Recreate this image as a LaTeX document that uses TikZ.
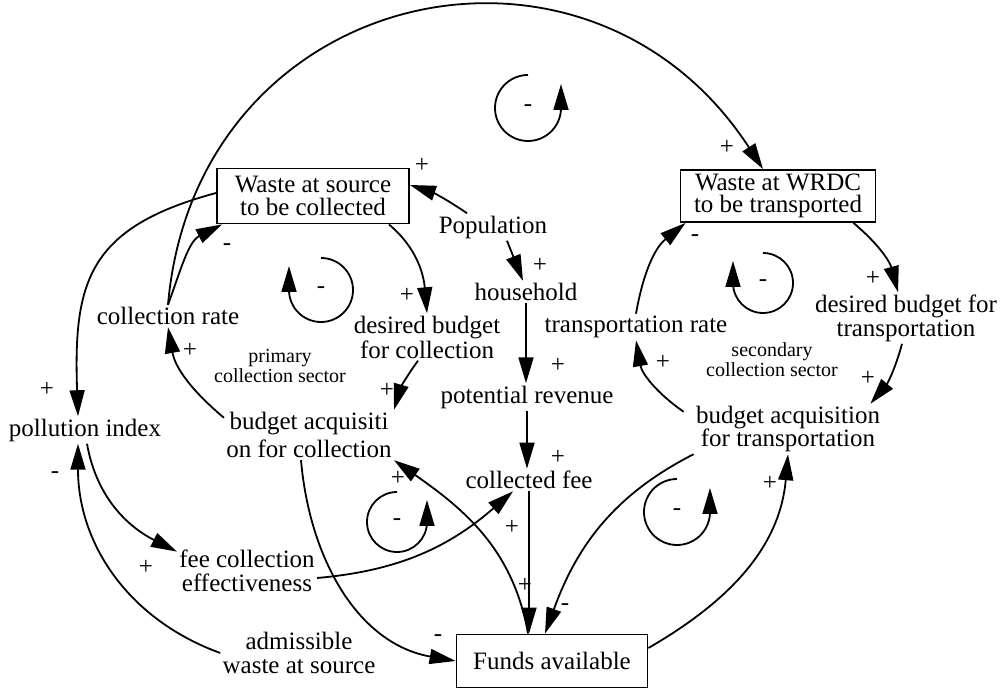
\documentclass[tikz,border=0pt]{standalone}
\usepackage{fontspec}
\setmainfont{Liberation Serif}
\usetikzlibrary{arrows.meta}

\begin{document}
\begin{tikzpicture}[
    x=0.5pt, y=0.5pt,
    var/.style={inner sep=1pt, align=center, font=\fontsize{12.5}{10.5}\selectfont},
    box/.style={var, rectangle, draw, line width=0.9pt},
    small/.style={inner sep=1pt, align=center, font=\fontsize{10}{8}\selectfont},
    sign/.style={inner sep=0pt, font=\fontsize{12.5}{12.5}\selectfont},
    arrow/.style={-{Triangle[length=13pt, width=7.5pt]}, line width=0.9pt}
]
    \useasboundingbox (0,0) rectangle (1007,-688);

    % stocks
    \node[box, minimum width=96pt, minimum height=27.5pt, font=\fontsize{12.5}{11.5}\selectfont] (wsrc) at (313,-196) {Waste at source\\to be collected};
    \node[box, minimum width=97.5pt, minimum height=26pt, font=\fontsize{12.5}{11}\selectfont] (wrdc) at (778,-196) {Waste at WRDC\\to be transported};
    \node[box, minimum width=95.5pt, minimum height=26.5pt] (funds) at (552,-661) {Funds available};

    % variables
    \node[var] (pop) at (493,-227) {Population};
    \node[var] (house) at (526,-292) {household};
    \node[var] (potrev) at (527,-397) {potential revenue};
    \node[var] (cfee) at (529,-480) {collected fee};
    \node[var] (colrate) at (168,-316) {collection rate};
    \node[var] (dbcol) at (427,-337) {desired budget\\for collection};
    \node[var] (pollut) at (85,-430) {pollution index};
    \node[var, font=\fontsize{12.5}{14}\selectfont] (bacol) at (309,-435) {budget acquisiti\\on for collection};
    \node[small] (primary) at (280,-366) {primary\\collection sector};
    \node[var, font=\fontsize{12.5}{12}\selectfont] (feeeff) at (247,-571) {fee collection\\effectiveness};
    \node[var, font=\fontsize{12.5}{12}\selectfont] (admis) at (299,-653) {admissible\\waste at source};
    \node[var] (trate) at (636,-327) {transportation rate};
    \node[var] (dbtr) at (906,-318) {desired budget for\\transportation};
    \node[small] (secondary) at (772,-360) {secondary\\collection sector};
    \node[var, font=\fontsize{12.5}{11.5}\selectfont] (batr) at (788,-429) {budget acquisition\\for transportation};

    % links
    \draw[arrow] (colrate.north) to[out=85, in=123, looseness=1.35] ([xshift=-7.5pt]wrdc.north);
    \draw[arrow] (colrate.north) to[out=70, in=207] ([xshift=3pt]wsrc.south west);
    \draw[arrow] ([yshift=1.5pt]wsrc.west) to[out=195, in=92, looseness=1.3] ([xshift=-3.5pt]pollut.north);
    \draw[arrow] ([xshift=-13pt]pop.north) to[bend right=8] ([yshift=5.5pt]wsrc.east);
    \draw[arrow] ([xshift=7pt]pop.south) -- ([xshift=-1.5pt]house.north);
    \draw[arrow] ([xshift=-10.5pt]wsrc.south east) to[out=-40, in=95] (dbcol.north);
    \draw[arrow] (house.south) -- (house.south |- potrev.north);
    \draw[arrow] (potrev.south) -- (potrev.south |- cfee.north);
    \draw[arrow] ([xshift=-4.5pt]dbcol.south) to[bend right=10] (bacol.north east);
    \draw[arrow] ([yshift=-4pt]bacol.north west) to[out=140, in=-80] (colrate.south);
    \draw[arrow] (cfee.south) -- (cfee.south |- funds.north);
    \draw[arrow] ([xshift=-12pt]funds.north) to[out=100, in=-35] (bacol.south east);
    \draw[arrow] (admis.west) to[out=160, in=-90] ([xshift=-3.5pt]pollut.south);
    \draw[arrow] ([xshift=1pt]pollut.south) to[out=-80, in=153] ([yshift=-2pt]feeeff.north west);
    \draw[arrow] ([xshift=-4pt]bacol.south) to[out=-85, in=170] (funds.west);
    \draw[arrow] ([yshift=-3.5pt]feeeff.east) to[out=5, in=221] ([xshift=-8pt]cfee.south);
    \draw[arrow] (trate.north) to[out=80, in=219] ([xshift=3pt]wrdc.south west);
    \draw[arrow] ([xshift=-11.5pt]wrdc.south east) to[out=-40, in=105] ([xshift=-4pt]dbtr.north);
    \draw[arrow] ([xshift=-2pt]dbtr.south) to[out=-105, in=50] ([xshift=-6pt]batr.north east);
    \draw[arrow] ([shift={(-5pt,-4pt)}]batr.north west) to[out=145, in=-80] (trate.south);
    \draw[arrow] (batr.south west) to[out=207, in=70] ([xshift=-3.5pt]funds.north);
    \draw[arrow] ([yshift=6.5pt]funds.east) to[out=30, in=-95] (batr.south);

    % polarities
    \node[sign] (s1) at (727,-147) {+};
    \node[sign] (s2) at (422,-165) {+};
    \node[sign] (s3) at (47,-389) {+};
    \node[sign] (s4) at (227,-247) {-};
    \node[sign] (s5) at (407,-295) {+};
    \node[sign] (s6) at (540,-265) {+};
    \node[sign] (s7) at (558,-365) {+};
    \node[sign] (s8) at (558,-457) {+};
    \node[sign] (s9) at (387,-390) {+};
    \node[sign] (s10) at (190,-350) {+};
    \node[sign] (s11) at (55,-475) {-};
    \node[sign] (s12) at (146,-567) {+};
    \node[sign] (s13) at (398,-478) {+};
    \node[sign] (s14) at (438,-638) {-};
    \node[sign] (s15) at (512,-527) {+};
    \node[sign] (s16) at (525,-585) {+};
    \node[sign] (s17) at (565,-607) {-};
    \node[sign] (s18) at (770,-483) {+};
    \node[sign] (s19) at (663,-362) {+};
    \node[sign] (s20) at (868,-378) {+};
    \node[sign] (s21) at (873,-278) {+};
    \node[sign] (s22) at (695,-238) {-};

    % loop markers
    \node[sign] (lp1) at (528,-108) {-};
    \draw[arrow] (lp1.center) ++(0,16.5pt) arc[start angle=90, end angle=360, radius=16.5pt] -- ++(0,12pt);
    \node[sign] (lp2) at (321,-290) {-};
    \draw[arrow] (lp2.center) ++(0,16pt) arc[start angle=90, end angle=-180, radius=16pt] -- ++(0,12pt);
    \node[sign] (lp3) at (763,-283) {-};
    \draw[arrow] (lp3.center) ++(0,15pt) arc[start angle=90, end angle=-180, radius=15pt] -- ++(0,11pt);
    \node[sign] (lp4) at (397,-522) {-};
    \draw[arrow] (lp4.center) ++(0,15pt) arc[start angle=90, end angle=360, radius=15pt] -- ++(0,11pt);
    \node[sign] (lp5) at (677,-512) {-};
    \draw[arrow] (lp5.center) ++(0,16.5pt) arc[start angle=90, end angle=360, radius=16.5pt] -- ++(0,12pt);
\end{tikzpicture}
\end{document}
